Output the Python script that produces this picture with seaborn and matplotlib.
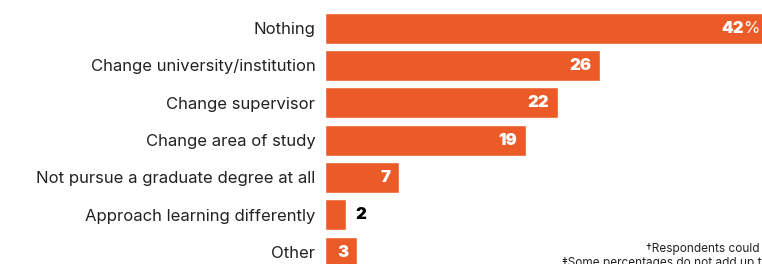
import matplotlib
matplotlib.use("Agg")
import matplotlib.pyplot as plt
import seaborn as sns
import pandas as pd

# data
categories = ["Nothing", "Change university/institution", "Change supervisor",
              "Change area of study", "Not pursue a graduate degree at all",
              "Approach learning differently", "Other"]
values = [42, 26, 22, 19, 7, 2, 3]

df = pd.DataFrame({"answer": categories, "pct": values})

sns.set_theme(style="white")
plt.rcParams["font.family"] = ["Inter", "DejaVu Sans"]

orange = "#EB5B27"

fig = plt.figure(figsize=(7.62, 2.64), dpi=100)
ax = fig.add_axes([325 / 762, -0.0254, 437 / 762, 0.99])

sns.barplot(data=df, x="pct", y="answer", color=orange, saturation=1,
            width=0.83, ax=ax)

ax.set_xlim(0, 41.3)
ax.set_ylim(6.5, -0.5)
ax.set_xlabel("")
ax.set_ylabel("")
ax.set_xticks([])
ax.tick_params(axis="y", length=0, pad=7, labelsize=12, labelcolor="#222222")
for s in ax.spines.values():
    s.set_visible(False)

for i, (bar, v) in enumerate(zip(ax.patches, values)):
    yc = bar.get_y() + bar.get_height() / 2
    end = bar.get_width()
    if i == 0:
        pct = ax.text(41.1, yc, "%", ha="right", va="center", color="white",
                      fontsize=12, clip_on=False)
        ax.annotate(str(v), xy=(0, 0.5), xycoords=pct, ha="right", va="center",
                    color="white", fontsize=12, fontweight=900)
    elif v < 3:
        ax.text(end + 0.85, yc, str(v), ha="left", va="center", color="black",
                fontsize=12, fontweight=900)
    else:
        ax.text(end - 0.8, yc, str(v), ha="right", va="center", color="white",
                fontsize=12, fontweight=900)

fig.text(760 / 762, 1 - 249 / 264, "\u2020Respondents could", ha="right",
         va="center", fontsize=8.5, color="#222222")
fig.text(562 / 762, 1 - 263 / 264, "\u2021Some percentages do not add up to 100",
         ha="left", va="center", fontsize=8.5, color="#222222")

fig.savefig("out.png", dpi=100)
